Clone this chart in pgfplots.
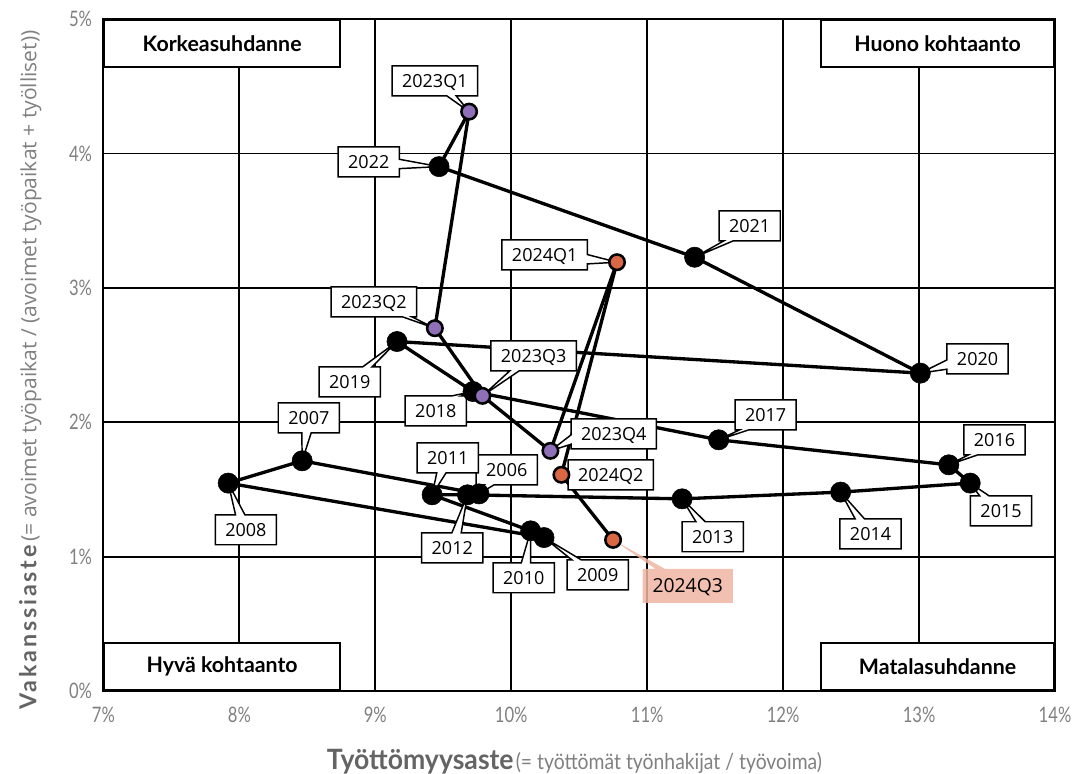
\documentclass[border=0pt]{standalone}
\usepackage{fontspec}
\setmainfont{Open Sans}
\newfontfamily\quadfont{Lato}
\newfontfamily\tickfont[FakeStretch=0.78]{Lato}
\newfontfamily\xlightfont[FakeStretch=0.88]{Lato}
\newfontfamily\xboldfont[FakeStretch=0.95]{Lato}
\newfontfamily\yboldfont[LetterSpace=12]{Lato}
\usepackage{pgfplots}
\pgfplotsset{compat=1.18}
\usepackage{pgfplotstable}
\usetikzlibrary{shapes.callouts,calc}

\definecolor{qpurple}{RGB}{142,111,184}
\definecolor{qorange}{RGB}{218,103,67}
\definecolor{qsalmon}{RGB}{240,181,162}
\definecolor{tickgray}{RGB}{128,128,128}
\definecolor{labgray}{RGB}{100,100,100}

\pgfplotstableread{
x y lab
9.763 1.468 2006
8.462 1.714 2007
7.918 1.548 2008
10.241 1.143 2009
10.143 1.193 2010
9.418 1.461 2011
9.678 1.461 2012
11.257 1.431 2013
12.423 1.481 2014
13.376 1.548 2015
13.219 1.684 2016
11.526 1.870 2017
9.719 2.229 2018
9.160 2.601 2019
13.009 2.366 2020
11.349 3.228 2021
9.469 3.902 2022
}\years

\pgfplotstableread{
x y lab
9.690 4.311 2023Q1
9.438 2.700 2023Q2
9.788 2.197 2023Q3
10.288 1.788 2023Q4
}\qtwentythree

\pgfplotstableread{
x y lab
10.778 3.191 2024Q1
10.369 1.610 2024Q2
10.749 1.126 2024Q3
}\qtwentyfour

\tikzset{
  lab/.style={rectangle callout, draw=black, line width=1.1pt, fill=white,
    font=\fontsize{13.5}{13.5}\selectfont, inner xsep=7.5pt, inner ysep=0pt,
    minimum height=22.5pt, callout pointer width=7pt, text height=10pt, text depth=0pt},
  quad/.style={draw=black, line width=1.5pt, fill=white, minimum width=176.6pt,
    minimum height=35.25pt, font=\quadfont\bfseries\fontsize{16}{16}\selectfont}
}
\newcommand\lbl[5]{\node[lab, callout absolute pointer={(axis cs:#1,#2)}] at (axis cs:#3,#4) {#5};}

\begin{document}
\begin{tikzpicture}
\begin{axis}[
  scale only axis, width=714pt, height=504.4pt,
  xmin=7, xmax=14, ymin=0, ymax=5,
  xtick={7,...,14}, ytick={0,...,5},
  /pgf/number format/assume math mode=true,
  xticklabel={\pgfmathprintnumber{\tick}\%},
  yticklabel={\pgfmathprintnumber{\tick}\%},
  xticklabel style={font=\tickfont\fontsize{16}{16}\selectfont, text=tickgray, yshift=-8pt},
  yticklabel style={font=\tickfont\fontsize{16}{16}\selectfont, text=tickgray, xshift=-5pt},
  major tick length=0pt,
  grid=major, major grid style={black, line width=1.3pt},
  axis line style={black, line width=1.5pt},
  clip=false,
  xlabel={{\xboldfont\bfseries\fontsize{21}{21}\selectfont\color{labgray}Työttömyysaste}\,{\xlightfont\fontsize{16.5}{16.5}\selectfont\color{tickgray}(= työttömät työnhakijat / työvoima)}},
  xlabel style={at={(axis description cs:0.495,-0.105)}, anchor=center},
  ylabel={{\yboldfont\bfseries\fontsize{17.5}{17.5}\selectfont\color{labgray}Vakanssiaste}\hspace{3pt}{\fontsize{15.8}{15.8}\selectfont\color{tickgray}(= avoimet työpaikat / (avoimet työpaikat + työlliset))}},
  ylabel style={at={(axis description cs:-0.077,0.478)}, anchor=center, rotate=0},
]
\addplot[black, line width=2.5pt, no marks] table[x=x, y=y] {\years};
\addplot[black, line width=2.5pt, no marks, forget plot] coordinates {(9.469,3.902) (9.690,4.311)};
\addplot[black, line width=2.5pt, no marks] table[x=x, y=y] {\qtwentythree};
\addplot[black, line width=2.5pt, no marks, forget plot] coordinates {(10.288,1.788) (10.778,3.191)};
\addplot[black, line width=2.5pt, no marks] table[x=x, y=y] {\qtwentyfour};
\addplot[only marks, mark=*, mark size=7.6pt, black] table[x=x, y=y] {\years};
\addplot[only marks, mark=*, mark size=5.8pt, mark options={draw=black, fill=qpurple, line width=1.9pt}] table[x=x, y=y] {\qtwentythree};
\addplot[only marks, mark=*, mark size=5.8pt, mark options={draw=black, fill=qorange, line width=1.9pt}] table[x=x, y=y] {\qtwentyfour};

\node[quad, anchor=north west] at (rel axis cs:0,1) {Korkeasuhdanne};
\node[quad, anchor=north east, minimum width=174.75pt] at (rel axis cs:1,1) {Huono kohtaanto};
\node[quad, anchor=south west] at (rel axis cs:0,0) {Hyvä kohtaanto};
\node[quad, anchor=south east, minimum width=174.75pt] at (rel axis cs:1,0) {Matalasuhdanne};

\lbl{9.763}{1.468}{9.967}{1.647}{2006}
\lbl{8.462}{1.714}{8.511}{2.033}{2007}
\lbl{7.918}{1.548}{8.048}{1.201}{2008}
\lbl{10.241}{1.143}{10.636}{0.866}{2009}
\lbl{10.143}{1.193}{10.092}{0.844}{2010}
\lbl{9.418}{1.461}{9.533}{1.736}{2011}
\lbl{9.678}{1.461}{9.566}{1.067}{2012}
\lbl{11.257}{1.431}{11.482}{1.149}{2013}
\lbl{12.423}{1.481}{12.643}{1.171}{2014}
\lbl{13.376}{1.548}{13.603}{1.342}{2015}
\lbl{13.219}{1.684}{13.555}{1.870}{2016}
\lbl{11.526}{1.870}{11.871}{2.056}{2017}
\lbl{9.719}{2.229}{9.445}{2.086}{2018}
\lbl{9.160}{2.601}{8.812}{2.301}{2019}
\lbl{13.009}{2.366}{13.430}{2.472}{2020}
\lbl{11.349}{3.228}{11.754}{3.461}{2021}
\lbl{9.469}{3.902}{8.952}{3.937}{2022}
\lbl{9.690}{4.311}{9.438}{4.539}{2023Q1}
\lbl{9.438}{2.700}{8.989}{2.896}{2023Q2}
\lbl{9.788}{2.197}{10.165}{2.494}{2023Q3}
\lbl{10.288}{1.788}{10.754}{1.914}{2023Q4}
\lbl{10.778}{3.191}{10.246}{3.245}{2024Q1}
\lbl{10.369}{1.610}{10.732}{1.610}{2024Q2}
\node[lab, draw=none, fill=qsalmon, fill opacity=0.85, text opacity=1, font=\fontsize{14.5}{14.5}\selectfont, minimum height=25.5pt, callout absolute pointer={(axis cs:10.749,1.126)}] at (axis cs:11.298,0.784) {2024Q3};
\end{axis}
\pgfresetboundingbox
\path[use as bounding box] ($(current axis.south west)+(-77.6pt,-61.9pt)$) rectangle ($(current axis.north east)+(14.25pt,14.25pt)$);
\end{tikzpicture}
\end{document}
